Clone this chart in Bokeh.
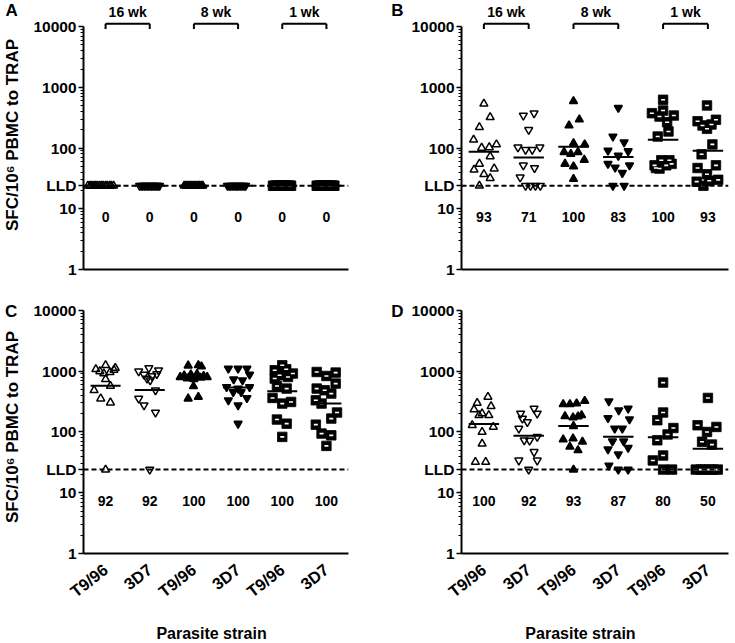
import math
import numpy as np
from bokeh.plotting import figure
from bokeh.models import Range1d, FixedTicker, Span, Label
from bokeh.layouts import row, column
from bokeh.embed import file_html
from bokeh.resources import INLINE
from bokeh.core.properties import value

# ---------------- data ----------------
LLD = 24
categories = [1, 2, 3, 4, 5, 6]
strains = ["T9/96", "3D7", "T9/96", "3D7", "T9/96", "3D7"]
weeks = ["16 wk", "8 wk", "1 wk"]
y_ticks = [1, 10, LLD, 100, 1000, 10000]
y_tick_labels = ["1", "10", "LLD", "100", "1000", "10000"]
count_label_y = 7.3
panel_letters = ["A", "B", "C", "D"]
y_title = "SFC/10\u2076 PBMC to TRAP"
x_title = "Parasite strain"

pct_A = [0, 0, 0, 0, 0, 0]
pct_B = [93, 71, 100, 83, 100, 93]
pct_C = [92, 92, 100, 100, 100, 100]
pct_D = [100, 92, 93, 87, 80, 50]

A_vals = [
    [24, 24, 24, 24, 24, 24, 24, 24, 24, 24, 24, 24, 24, 24],
    [24, 24, 24, 24, 24, 24, 24, 24, 24, 24, 24, 24, 24, 24],
    [24, 24, 24, 24, 24, 24, 24, 24, 24, 24, 24, 24],
    [24, 24, 24, 24, 24, 24, 24, 24, 24, 24, 24, 24],
    [24, 24, 24, 24, 24, 24, 24, 24, 24, 24, 24, 24, 24, 24, 24],
    [24, 24, 24, 24, 24, 24, 24, 24, 24, 24, 24, 24, 24, 24, 24],
]
A_off = [
    [-0.40, -0.35, -0.31, -0.26, -0.22, -0.18, -0.13, -0.09, -0.05, 0.0, 0.04, 0.09, 0.13, 0.18],
    [-0.23, -0.19, -0.16, -0.12, -0.09, -0.05, -0.02, 0.02, 0.05, 0.09, 0.12, 0.16, 0.19, 0.22],
    [-0.22, -0.18, -0.14, -0.10, -0.06, -0.02, 0.02, 0.06, 0.10, 0.13, 0.17, 0.20],
    [-0.24, -0.20, -0.17, -0.13, -0.09, -0.05, -0.02, 0.02, 0.06, 0.10, 0.14, 0.17],
    [-0.21, -0.18, -0.15, -0.12, -0.09, -0.06, -0.03, 0.0, 0.03, 0.06, 0.09, 0.12, 0.15, 0.18, 0.20],
    [-0.22, -0.19, -0.16, -0.13, -0.10, -0.07, -0.04, -0.02, 0.01, 0.04, 0.07, 0.10, 0.13, 0.16, 0.18],
]

B_vals = [
    [537, 323, 221, 137, 101, 103, 115, 73, 55, 44, 46, 37, 32, 24],
    [345, 376, 200, 103, 94, 94, 103, 52, 47, 33, 24, 24, 24, 24],
    [593, 296, 236, 120, 115, 86, 80, 86, 55, 50, 64, 31],
    [461, 155, 125, 91, 75, 89, 55, 48, 39, 52, 24, 24],
    [625, 416, 376, 344, 331, 267, 188, 155, 52, 63, 63, 46, 52, 55, 47],
    [504, 277, 293, 208, 245, 236, 115, 79, 47, 52, 37, 28, 29, 30, 24],
]
B_off = [
    [0.0, 0.14, -0.10, -0.23, -0.05, 0.12, 0.28, 0.14, -0.10, -0.22, 0.23, 0.0, 0.14, -0.10],
    [-0.12, 0.12, 0.0, -0.24, -0.07, 0.08, 0.25, -0.12, 0.13, -0.19, -0.07, 0.04, 0.15, 0.26],
    [0.0, 0.13, -0.10, 0.0, 0.25, -0.21, -0.06, 0.10, -0.19, 0.0, 0.24, 0.0],
    [0.0, -0.12, 0.13, -0.23, 0.0, 0.22, -0.23, -0.07, 0.09, 0.25, -0.12, 0.13],
    [0.0, 0.0, -0.25, 0.24, -0.08, 0.09, 0.12, -0.12, -0.19, -0.04, 0.14, -0.08, 0.07, 0.19, -0.16],
    [-0.02, -0.23, 0.18, -0.02, 0.08, -0.12, 0.10, -0.14, -0.23, 0.18, -0.02, -0.25, 0.03, 0.23, -0.10],
]

C_vals = [
    [1250, 1129, 1075, 1050, 995, 960, 914, 736, 571, 485, 354, 304, 24],
    [1129, 1035, 995, 879, 834, 900, 756, 708, 485, 354, 275, 209, 24],
    [1236, 1250, 1200, 800, 850, 760, 880, 740, 900, 780, 830, 800, 565, 354, 377],
    [1104, 1104, 1104, 879, 736, 708, 550, 517, 550, 455, 455, 332, 363, 275, 137],
    [1250, 1035, 1075, 914, 857, 756, 803, 571, 517, 363, 293, 312, 160, 137, 83],
    [970, 834, 948, 625, 517, 485, 428, 332, 293, 209, 166, 132, 94, 88, 59],
]
C_off = [
    [0.0, 0.22, -0.22, 0.19, -0.13, 0.10, -0.04, 0.0, 0.11, -0.26, -0.11, 0.11, 0.0],
    [-0.02, 0.20, -0.25, -0.13, 0.05, 0.16, -0.06, 0.01, 0.13, -0.25, -0.13, 0.13, 0.0],
    [-0.13, 0.10, 0.17, -0.31, -0.22, -0.15, -0.07, 0.0, 0.07, 0.15, 0.22, 0.30, -0.01, -0.13, 0.10],
    [-0.22, 0.0, 0.20, 0.26, -0.10, 0.10, -0.26, 0.0, 0.26, -0.11, 0.07, -0.22, 0.20, 0.0, 0.0],
    [0.0, -0.17, 0.09, 0.24, -0.06, -0.17, 0.13, -0.12, 0.10, -0.22, 0.0, 0.20, -0.12, 0.10, 0.0],
    [-0.22, 0.0, 0.21, 0.21, -0.22, -0.04, 0.11, -0.24, -0.11, 0.24, 0.11, -0.24, -0.11, 0.11, 0.0],
]

D_vals = [
    [377, 300, 265, 234, 201, 188, 188, 129, 121, 100, 64, 32, 32],
    [201, 243, 201, 146, 114, 83, 73, 72, 47, 34, 34, 166, 24],
    [286, 286, 295, 324, 181, 173, 188, 180, 125, 75, 78, 69, 57, 50, 24],
    [320, 228, 243, 170, 162, 114, 114, 70, 70, 52, 55, 43, 28, 24, 24],
    [649, 209, 156, 116, 91, 73, 41, 34, 24, 24],
    [363, 129, 121, 100, 69, 62, 24, 24, 24, 24, 24, 24],
]
D_off = [
    [0.09, -0.15, 0.16, -0.22, -0.04, 0.11, -0.11, -0.26, 0.21, -0.04, -0.04, -0.19, 0.04],
    [-0.18, 0.12, 0.19, -0.03, -0.22, 0.19, -0.10, 0.02, 0.12, -0.22, 0.19, -0.14, 0.0],
    [-0.23, -0.08, 0.07, 0.25, -0.19, -0.01, 0.18, 0.10, 0.0, -0.23, -0.01, 0.20, -0.08, 0.10, 0.0],
    [-0.21, 0.01, 0.22, -0.23, 0.25, -0.08, 0.09, -0.13, 0.12, -0.23, 0.22, 0.0, -0.21, 0.0, 0.22],
    [0.0, 0.0, -0.13, 0.23, 0.10, -0.13, 0.0, -0.23, 0.0, 0.20],
    [0.0, -0.23, 0.19, -0.02, -0.13, 0.09, -0.27, -0.16, -0.08, 0.03, 0.12, 0.22],
]

# ---------------- styling / layout ----------------
FONT = "Liberation Sans"
markers = ["triangle", "inverted_triangle", "triangle", "inverted_triangle", "square", "square"]
filled = [False, False, True, True, True, True]
minor = [m * 10 ** e for e in range(4) for m in range(2, 10)]


def panel(letter, vals, offs, pcts, geo):
    W, H = geo["W"], geo["H"]
    left, right = geo["frame_left"], geo["frame_right"]
    top, bottom = geo["frame_top"], geo["frame_bottom"]
    dec = geo["decade"]
    x0, x1 = geo["xr"]
    ppu = (right - left) / (x1 - x0)
    top_row = geo["top_row"]

    def dx(px):
        return x0 + (px - left) / ppu

    def dy(py):
        return 10 ** ((bottom - py) / dec)

    p = figure(width=W, height=H, x_range=Range1d(x0, x1),
               y_range=Range1d(1, dy(top)), y_axis_type="log",
               output_backend="svg", toolbar_location=None, title=None,
               min_border_left=left - geo["page_x"], min_border_right=geo["page_x"] + W - right,
               min_border_top=top - geo["page_y"], min_border_bottom=geo["page_y"] + H - bottom)
    p.outline_line_color = None
    p.xgrid.visible = False
    p.ygrid.visible = False

    yax = p.yaxis[0]
    yax.ticker = FixedTicker(ticks=y_ticks, minor_ticks=minor)
    yax.major_label_overrides = {t: l for t, l in zip(y_ticks, y_tick_labels)}
    yax.bounds = (1, 10000)
    yax.axis_line_width = 2
    yax.major_tick_in = 0
    yax.major_tick_out = 5
    yax.minor_tick_in = 0
    yax.minor_tick_out = 3
    yax.major_tick_line_width = 1.5
    yax.minor_tick_line_width = 1
    yax.major_label_text_font = FONT
    yax.major_label_text_font_style = "bold"
    yax.major_label_text_font_size = "15.5px"
    yax.major_label_text_color = "black"
    yax.major_label_standoff = 2
    if geo.get("ytitle"):
        yax.axis_label = y_title
        yax.axis_label_text_font = FONT
        yax.axis_label_text_font_style = "bold"
        yax.axis_label_text_font_size = "17px"
        yax.axis_label_text_color = "black"
        yax.axis_label_standoff = 8

    xax = p.xaxis[0]
    xax.axis_line_width = 2
    xax.major_tick_line_color = None
    xax.minor_tick_line_color = None
    if top_row:
        xax.ticker = FixedTicker(ticks=[])
    else:
        xax.ticker = FixedTicker(ticks=categories)
        xax.major_label_overrides = {c: s for c, s in zip(categories, strains)}
        xax.major_label_orientation = 0.66
        xax.major_label_text_font = FONT
        xax.major_label_text_font_style = "bold"
        xax.major_label_text_font_size = "16.5px"
        xax.major_label_text_color = "black"
        xax.major_label_standoff = 8

    p.add_layout(Span(location=LLD, dimension="width", line_color="black",
                      line_width=2, line_dash="5 3"))

    for i, (v, o) in enumerate(zip(vals, offs)):
        c = categories[i]
        xs = [c + d for d in o]
        if markers[i] == "square":
            p.scatter(xs, v, marker="square", size=9.5, fill_color="black",
                      line_color="black", line_width=0.8)
            p.rect(x=xs, y=v, width=4, height=1.6, width_units="screen",
                   height_units="screen", fill_color="white", line_color=None)
        else:
            p.scatter(xs, v, marker=markers[i], size=8,
                      fill_color="black" if filled[i] else None,
                      line_color="black", line_width=1.5)
        gm = 10 ** np.mean(np.log10(v))
        p.segment(x0=[c - 0.34], x1=[c + 0.34], y0=[gm], y1=[gm],
                  line_color="black", line_width=2)

    p.text(x=categories, y=[count_label_y] * 6, text=[str(q) for q in pcts],
           text_font=value(FONT), text_font_style="bold", text_font_size=value("14px"),
           text_align="center", text_baseline="middle", text_color="black")

    if top_row:
        yb, yt, yl = dy(23.3), dy(28.5), dy(11)
        for k, wk in enumerate(weeks):
            a, b = categories[2 * k], categories[2 * k + 1]
            p.segment(x0=[a, a, b], x1=[b, a, b], y0=[yb, yb, yb], y1=[yb, yt, yt],
                      line_color="black", line_width=2)
            p.text(x=[(a + b) / 2], y=[yl], text=[wk], text_font=value(FONT),
                   text_font_style="bold", text_font_size=value("14px"),
                   text_align="center", text_baseline="middle", text_color="black")
    else:
        p.add_layout(Label(x=dx(geo["xtitle_x"]), y=dy(633), text=x_title,
                           text_font=FONT, text_font_style="bold",
                           text_font_size="16px", text_align="center",
                           text_baseline="middle", text_color="black"), "below")

    lx, ly = geo["letter"]
    p.add_layout(Label(x=dx(lx), y=dy(ly), text=letter, text_font=FONT,
                       text_font_style="bold", text_font_size="17px",
                       text_align="center", text_baseline="middle", text_color="black"),
                 geo["letter_side"])
    return p


geoA = dict(W=388, H=300, page_x=0, page_y=0, frame_left=81, frame_right=348,
            frame_top=0, frame_bottom=269, decade=60.7, xr=(0.5, 6.5), top_row=True,
            letter=(8.5, 10), letter_side="right", ytitle=True)
geoB = dict(W=347, H=300, page_x=388, page_y=0, frame_left=461, frame_right=728,
            frame_top=0, frame_bottom=269, decade=60.7, xr=(0.5, 6.46), top_row=True,
            letter=(397, 10), letter_side="left")
geoC = dict(W=388, H=343, page_x=0, page_y=300, frame_left=81, frame_right=348,
            frame_top=300, frame_bottom=553, decade=60.77, xr=(0.5, 6.5), top_row=False,
            letter=(8, 311), letter_side="right", ytitle=True, xtitle_x=210)
geoD = dict(W=347, H=343, page_x=388, page_y=300, frame_left=461, frame_right=728,
            frame_top=300, frame_bottom=553, decade=60.77, xr=(0.5, 6.46), top_row=False,
            letter=(397, 311), letter_side="left", xtitle_x=580)

pA = panel(panel_letters[0], A_vals, A_off, pct_A, geoA)
pB = panel(panel_letters[1], B_vals, B_off, pct_B, geoB)
pC = panel(panel_letters[2], C_vals, C_off, pct_C, geoC)
pD = panel(panel_letters[3], D_vals, D_off, pct_D, geoD)

layout = column(row(pA, pB), row(pC, pD))
open("out.html", "w").write(file_html(layout, INLINE))
